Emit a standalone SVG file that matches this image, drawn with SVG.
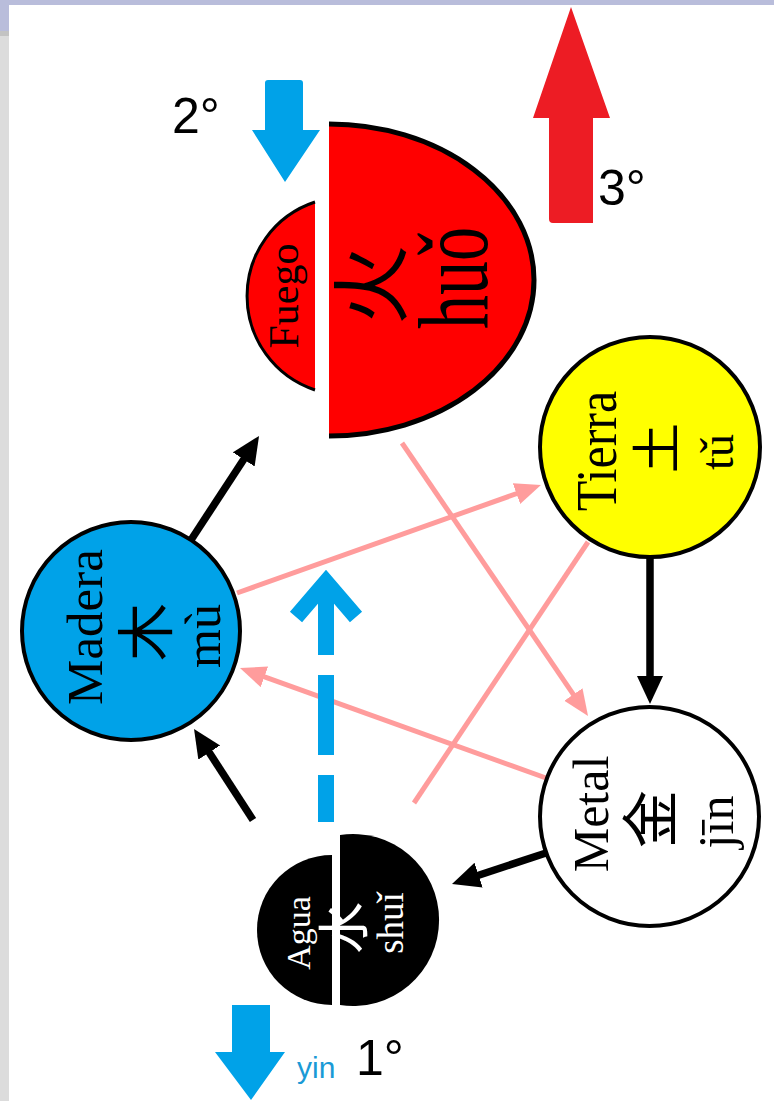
<svg xmlns="http://www.w3.org/2000/svg" width="774" height="1101" viewBox="0 0 774 1101">
<defs>
<style>
.lat{font-family:"Liberation Serif","Times New Roman",serif;text-anchor:middle}
.cjk{font-family:"Noto Sans CJK SC","Noto Sans CJK JP",sans-serif;text-anchor:middle}
.deg{font-family:"Liberation Sans",Arial,sans-serif;font-size:50px;fill:#000}
.blk{stroke:#000;stroke-width:7.5;fill:none}
.pink{stroke:#ff9c9c;stroke-width:5;fill:none}
.ring{stroke:#000;stroke-width:4}
</style>
<marker id="ahB" markerUnits="userSpaceOnUse" markerWidth="30" markerHeight="28" refX="8" refY="13" orient="auto"><path d="M0,0 L28,13 L0,26 Z" fill="#000"/></marker>
<marker id="ahP" markerUnits="userSpaceOnUse" markerWidth="28" markerHeight="24" refX="8" refY="11" orient="auto"><path d="M0,0 L26,11 L0,22 Z" fill="#ff9c9c"/></marker>
</defs>
<rect x="0" y="0" width="774" height="1101" fill="#fff"/>
<g id="frame">
<rect x="0" y="0" width="774" height="5" fill="#b9bddb"/>
<rect x="0" y="0" width="9" height="31" fill="#b9bddb"/>
<rect x="0" y="31" width="9" height="5" fill="#c3c3c3"/>
<rect x="0" y="36" width="9" height="1065" fill="#dcdcdc"/>
</g>
<g id="connectors">
<line class="blk" x1="191" y1="540" x2="248.1" y2="452.7" marker-end="url(#ahB)"/>
<line class="blk" x1="253" y1="820" x2="204.9" y2="745.8" marker-end="url(#ahB)"/>
<line class="blk" x1="650" y1="557" x2="650" y2="684" marker-end="url(#ahB)"/>
<line class="blk" x1="546" y1="853" x2="471" y2="877.7" marker-end="url(#ahB)"/>
<line class="pink" x1="237" y1="593" x2="524" y2="491" marker-end="url(#ahP)"/>
<line class="pink" x1="546" y1="778" x2="256.9" y2="674.1" marker-end="url(#ahP)"/>
<line class="pink" x1="402" y1="443" x2="577.9" y2="701.1" marker-end="url(#ahP)"/>
<line class="pink" x1="588" y1="542" x2="414" y2="803"/>
<g id="yang-arrow">
<line x1="326" y1="822" x2="326" y2="580" stroke="#00a2e8" stroke-width="16" stroke-dasharray="80 20" stroke-dashoffset="33"/>
<path d="M296,617 L326,582 L356,617" fill="none" stroke="#00a2e8" stroke-width="16"/>
</g>
</g>
<g id="node-fuego">
<path d="M315,202 A99,99 0 0 0 315,390 Z" fill="#ff0000"/>
<path d="M315,202 A99,99 0 0 0 315,390" fill="none" stroke="#000" stroke-width="3"/>
<path d="M329,124 A205,156 0 0 1 329,436 Z" fill="#ff0000"/>
<path d="M329,124 A205,156 0 0 1 329,436" fill="none" stroke="#000" stroke-width="5"/>
<text class="lat" font-size="42" transform="translate(298,296) rotate(-90)">Fuego</text>
<text class="cjk" font-size="80" transform="translate(400,285) rotate(-90)">火</text>
<text class="lat" font-size="68" transform="translate(487,278) rotate(-90) scale(1,1.45)">huǒ</text>
</g>
<g id="node-tierra">
<circle class="ring" cx="650" cy="447" r="110" fill="#ffff00"/>
<text class="lat" font-size="50" transform="translate(616,451) rotate(-90) scale(1,1.12)">Tierra</text>
<text class="cjk" font-size="50" transform="translate(675,448) rotate(-90)">土</text>
<text class="lat" font-size="46" transform="translate(733,452) rotate(-90)">tǔ</text>
</g>
<g id="node-madera">
<circle class="ring" cx="131" cy="631" r="109" fill="#00a2e8"/>
<text class="lat" font-size="51" transform="translate(102,627) rotate(-90)">Madera</text>
<text class="cjk" font-size="58" transform="translate(167,632) rotate(-90)">木</text>
<text class="lat" font-size="50" transform="translate(220,636) rotate(-90)">mù</text>
</g>
<g id="node-metal">
<circle class="ring" cx="649.5" cy="816.5" r="109.5" fill="#fff"/>
<text class="lat" font-size="50" transform="translate(608,814) rotate(-90)">Metal</text>
<text class="cjk" font-size="58" transform="translate(672,819) rotate(-90)">金</text>
<text class="lat" font-size="50" transform="translate(733,822) rotate(-90)">jīn</text>
</g>
<g id="node-agua">
<path d="M332,855 A75,75 0 0 0 332,1005 Z" fill="#000"/>
<path d="M340,835 A86,86 0 1 1 340,1005 Z" fill="#000"/>
<text class="lat" font-size="34" fill="#fff" transform="translate(310,933) rotate(-90)">Agua</text>
<text class="cjk" font-size="52" fill="#fff" transform="translate(363,928) rotate(-90)">水</text>
<text class="lat" font-size="37" fill="#fff" transform="translate(403,923) rotate(-90)">shuǐ</text>
</g>
<g id="indicators">
<path d="M268,80 L300,80 Q303,80 303,83 L303,130 L320,130 L285,182 L252,130 L265,130 L265,83 Q265,80 268,80 Z" fill="#00a2e8"/>
<path d="M571,7 L610,118 L593,118 L593,223 L553,223 Q549,223 549,219 L549,118 L533,118 Z" fill="#ed1c24"/>
<path d="M232,1005 L270,1005 L270,1052 L285,1052 L251,1100 L215,1052 L232,1052 Z" fill="#00a2e8"/>
<text class="deg" x="172" y="133">2°</text>
<text class="deg" x="598" y="205">3°</text>
<text class="deg" x="356" y="1075">1°</text>
<text x="297" y="1078" font-family="Liberation Sans,Arial,sans-serif" font-size="30" fill="#1a9ad6">yin</text>
</g>
</svg>
